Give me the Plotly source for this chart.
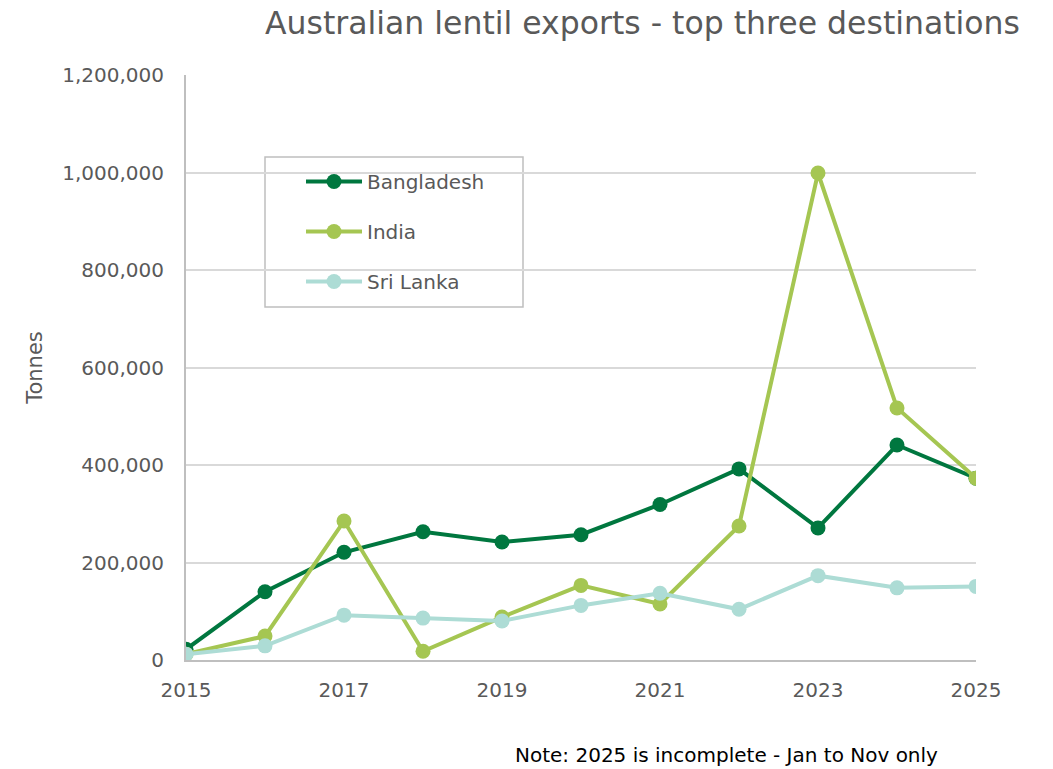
import plotly.graph_objects as go

years = [2015, 2016, 2017, 2018, 2019, 2020, 2021, 2022, 2023, 2024, 2025]
bangladesh = [22000, 140000, 221000, 263000, 242000, 257000, 319000, 392000, 271000, 441000, 373000]
india = [12000, 49000, 285000, 18000, 88000, 153000, 115000, 275000, 999000, 517000, 373000]
sri_lanka = [12000, 29000, 92000, 86000, 80000, 112000, 137000, 104000, 173000, 148000, 151000]

series = [
    ("Bangladesh", bangladesh, "#00773F"),
    ("India", india, "#A5C652"),
    ("Sri Lanka", sri_lanka, "#ADDCD5"),
]

FONT = "DejaVu Sans, sans-serif"
GREY = "#595959"

L, R, T, B = 186, 77, 75, 109
PW = 1053 - L - R
PH = 769 - T - B

def px(x):
    return (x - L) / PW

def py(y):
    return (769 - B - y) / PH

fig = go.Figure()
for i, (name, vals, col) in enumerate(series):
    fig.add_trace(go.Scatter(
        x=years, y=vals, name=name, mode="lines+markers",
        line=dict(color=col, width=4),
        marker=dict(color=col, size=15),
        legendgroup=name,
    ))

fig.update_layout(
    width=1053, height=769,
    margin=dict(l=L, r=R, t=T, b=B),
    plot_bgcolor="white", paper_bgcolor="white",
    font=dict(family=FONT, color=GREY, size=20),
    showlegend=True,
    legend=dict(
        x=px(301), y=py(162), xanchor="left", yanchor="top",
        borderwidth=0, bgcolor="rgba(0,0,0,0)",
        font=dict(size=20, color=GREY, family=FONT),
        traceorder="grouped", tracegroupgap=21, itemwidth=56,
    ),
    xaxis=dict(
        range=[2015, 2025], tickmode="linear", tick0=2015, dtick=2,
        showgrid=False, showline=True, linecolor="#BFBFBF", linewidth=2,
        ticks="", tickfont=dict(size=20, color=GREY), ticklabelstandoff=11,
        zeroline=False,
    ),
    yaxis=dict(
        range=[0, 1200000], tickmode="linear", tick0=0, dtick=200000,
        tickformat=",", showgrid=True, gridcolor="#D9D9D9", gridwidth=1.5,
        showline=True, linecolor="#BFBFBF", linewidth=2, zeroline=False,
        ticks="", tickfont=dict(size=20, color=GREY), ticklabelstandoff=16,
        title=dict(text="Tonnes", font=dict(size=21, color=GREY), standoff=14),
    ),
    shapes=[
        dict(type="rect", xref="paper", yref="paper",
             x0=px(265), x1=px(523), y0=py(307), y1=py(157),
             line=dict(color="#BFBFBF", width=1.5), fillcolor="white", layer="below"),
    ],
    annotations=[
        dict(text="Australian lentil exports - top three destinations",
             xref="paper", yref="paper", x=px(642), y=1.0,
             xanchor="center", yanchor="bottom", yshift=32, showarrow=False,
             font=dict(size=31.5, color=GREY, family=FONT)),
        dict(text="Note: 2025 is incomplete - Jan to Nov only",
             xref="paper", yref="paper", x=px(940), y=0,
             xanchor="right", yanchor="top", yshift=-81, showarrow=False,
             font=dict(size=20, color="#000000", family=FONT)),
    ],
)

fig.write_html("out.html")
